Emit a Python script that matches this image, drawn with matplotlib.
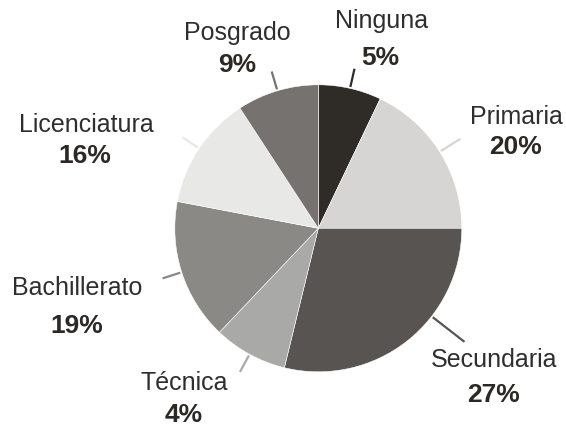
import matplotlib
matplotlib.use("Agg")
import matplotlib.pyplot as plt
import numpy as np

# ---- data ----
categories = ["Ninguna", "Primaria", "Secundaria", "Técnica", "Bachillerato", "Licenciatura", "Posgrado"]
wedge_values = [7.1, 17.9, 28.8, 8.3, 15.9, 12.8, 9.2]   # wedge sizes as drawn
pct_labels = ["5%", "20%", "27%", "4%", "19%", "16%", "9%"]  # printed labels
colors = ["#2f2c28", "#d6d5d3", "#585451", "#a9a9a7", "#8a8986", "#e8e8e7", "#76726f"]

# ---- layout (pixel positions of label text: centre x, baseline y) ----
W, H = 566, 426
CX, CY, R = 318.3, 228.3, 143.5
name_pos = {"Ninguna": (381.5, 28.3), "Primaria": (516, 124.3), "Secundaria": (494.5, 366.7),
            "Técnica": (184.5, 390), "Bachillerato": (77.5, 295), "Licenciatura": (86, 131.7),
            "Posgrado": (237.5, 40)}
pct_pos = {"Ninguna": (380.3, 65), "Primaria": (515, 154.3), "Secundaria": (494, 401.7),
           "Técnica": (184, 421.5), "Bachillerato": (76.7, 332.7), "Licenciatura": (85, 163.3),
           "Posgrado": (236.7, 71.7)}
leader_offset = {"Secundaria": 14}
leader_outer = {"Secundaria": 1.29, "Primaria": 1.17}

def to_data(px, py):
    return (px - CX) / R, (CY - py) / R

fig = plt.figure(figsize=(W / 100, H / 100), dpi=100)
ax = fig.add_axes([0, 0, 1, 1])

wedges, _ = ax.pie(wedge_values, colors=colors, startangle=90, counterclock=False,
                   radius=1.0, center=(0, 0), frame=True,
                   wedgeprops=dict(linewidth=0.4, edgecolor="white"))
ax.set_xlim(-CX / R, (W - CX) / R)
ax.set_ylim((CY - H) / R, CY / R)
ax.axis("off")

for w, cat, col in zip(wedges, categories, colors):
    mid = (w.theta1 + w.theta2) / 2.0 + leader_offset.get(cat, 0)
    a = np.deg2rad(mid)
    r0, r1 = 1.01, leader_outer.get(cat, 1.14)
    ax.plot([r0 * np.cos(a), r1 * np.cos(a)], [r0 * np.sin(a), r1 * np.sin(a)],
            color=col, lw=1.6, solid_capstyle="butt")

for cat, pct in zip(categories, pct_labels):
    x, y = to_data(*name_pos[cat])
    ax.text(x, y, cat, ha="center", va="baseline", fontsize=18,
            family=["Liberation Sans", "DejaVu Sans"], color="#2e2e2e")
    x, y = to_data(*pct_pos[cat])
    ax.text(x, y, pct, ha="center", va="baseline", fontsize=19, fontweight="bold",
            family=["Liberation Sans", "DejaVu Sans"], color="#2b2825")

fig.savefig("out.png", dpi=100)
